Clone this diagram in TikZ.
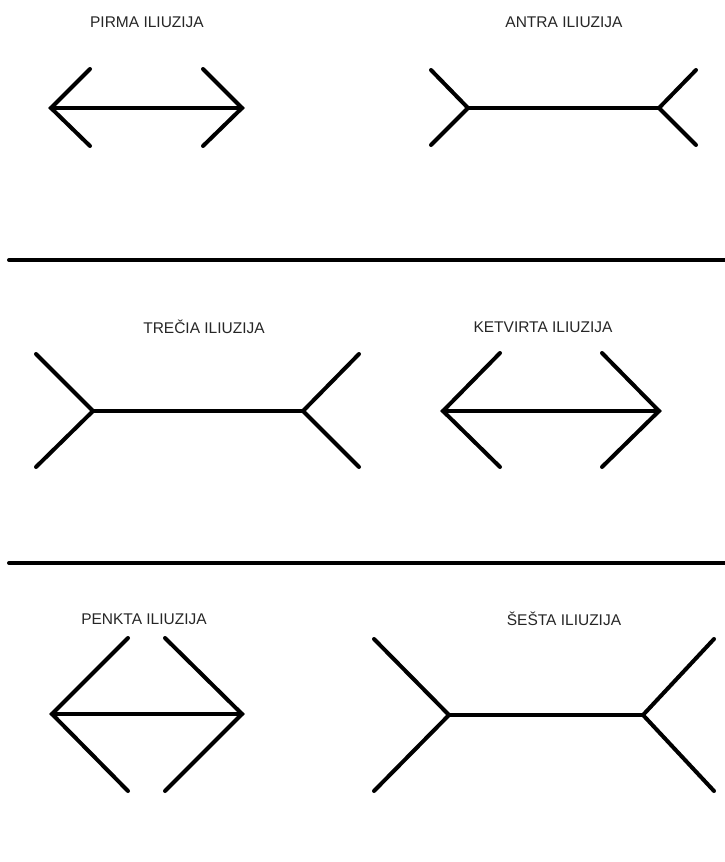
\documentclass[tikz,border=0pt]{standalone}
\usepackage{fontspec}
\setmainfont{Liberation Sans}
\begin{document}
\begin{tikzpicture}[x=1pt,y=-1pt,
  stroke/.style={line width=4pt,line cap=round,line join=miter},
  sep/.style={line width=4pt,line cap=round},
  lbl/.style={font=\fontsize{15.5}{18}\selectfont,text=black!85,inner sep=0pt}]
\useasboundingbox (0,0) rectangle (724,862);
% labels
\node[lbl] (t1) at (147,22) {PIRMA ILIUZIJA};
\node[lbl] (t2) at (564,22) {ANTRA ILIUZIJA};
\node[lbl] (t3) at (204,327) {TREČIA ILIUZIJA};
\node[lbl] (t4) at (543,327) {KETVIRTA ILIUZIJA};
\node[lbl] (t5) at (144,619) {PENKTA ILIUZIJA};
\node[lbl] (t6) at (564,619) {ŠEŠTA ILIUZIJA};
% separators
\coordinate (s1a) at (9,260); \coordinate (s1b) at (726,260);
\coordinate (s2a) at (9,563); \coordinate (s2b) at (726,563);
\draw[sep] (s1a) -- (s1b);
\draw[sep] (s2a) -- (s2b);
% figure 1
\coordinate (a1l) at (51,108); \coordinate (a1r) at (242,108);
\coordinate (a1lu) at (90,69); \coordinate (a1ld) at (90,146);
\coordinate (a1ru) at (203,69); \coordinate (a1rd) at (203,146);
\draw[stroke] (a1l) -- (a1r);
\draw[stroke] (a1lu) -- (a1l) -- (a1ld);
\draw[stroke] (a1ru) -- (a1r) -- (a1rd);
% figure 2
\coordinate (a2l) at (468,108); \coordinate (a2r) at (659,108);
\coordinate (a2lu) at (431,70); \coordinate (a2ld) at (431,145);
\coordinate (a2ru) at (696,70); \coordinate (a2rd) at (696,145);
\draw[stroke] (a2l) -- (a2r);
\draw[stroke] (a2lu) -- (a2l) -- (a2ld);
\draw[stroke] (a2ru) -- (a2r) -- (a2rd);
% figure 3
\coordinate (a3l) at (93,411); \coordinate (a3r) at (303,411);
\coordinate (a3lu) at (36,354); \coordinate (a3ld) at (36,467);
\coordinate (a3ru) at (359,354); \coordinate (a3rd) at (359,467);
\draw[stroke] (a3l) -- (a3r);
\draw[stroke] (a3lu) -- (a3l) -- (a3ld);
\draw[stroke] (a3ru) -- (a3r) -- (a3rd);
% figure 4
\coordinate (a4l) at (443,411); \coordinate (a4r) at (659,411);
\coordinate (a4lu) at (500,353); \coordinate (a4ld) at (500,467);
\coordinate (a4ru) at (602,353); \coordinate (a4rd) at (602,467);
\draw[stroke] (a4l) -- (a4r);
\draw[stroke] (a4lu) -- (a4l) -- (a4ld);
\draw[stroke] (a4ru) -- (a4r) -- (a4rd);
% figure 5
\coordinate (a5l) at (52,714); \coordinate (a5r) at (242,714);
\coordinate (a5lu) at (128,638); \coordinate (a5ld) at (128,791);
\coordinate (a5ru) at (165,638); \coordinate (a5rd) at (165,791);
\draw[stroke] (a5l) -- (a5r);
\draw[stroke] (a5lu) -- (a5l) -- (a5ld);
\draw[stroke] (a5ru) -- (a5r) -- (a5rd);
% figure 6
\coordinate (a6l) at (449,715); \coordinate (a6r) at (643,715);
\coordinate (a6lu) at (374,639); \coordinate (a6ld) at (374,791);
\coordinate (a6ru) at (714,639); \coordinate (a6rd) at (714,791);
\draw[stroke] (a6l) -- (a6r);
\draw[stroke] (a6lu) -- (a6l) -- (a6ld);
\draw[stroke] (a6ru) -- (a6r) -- (a6rd);
\end{tikzpicture}
\end{document}
